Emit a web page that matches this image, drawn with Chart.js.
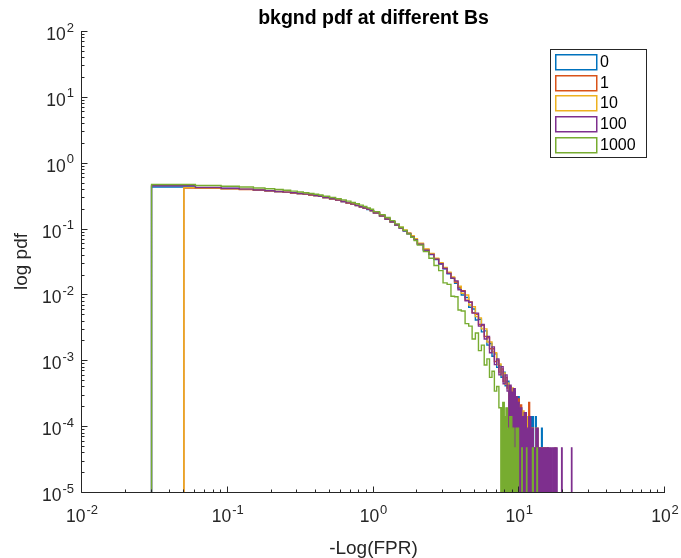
<!DOCTYPE html>
<html>
<head>
<meta charset="utf-8">
<script src="https://cdn.jsdelivr.net/npm/chart.js@4/dist/chart.umd.min.js"></script>
<style>
  html, body { margin: 0; padding: 0; background: #fff; }
  #wrap { width: 681px; height: 558px; }
</style>
</head>
<body>
<div id="wrap"><canvas id="myChart" width="681" height="558"></canvas></div>
<script>
// legend labels (B values)
const labels = ['0', '1', '10', '100', '1000'];

// bin edges of -Log(FPR), shared by the main part of every histogram
const edges = [0.03, 0.05, 0.06, 0.09, 0.12, 0.15, 0.18, 0.21, 0.24, 0.27, 0.30, 0.33, 0.36, 0.39, 0.42, 0.45,
  0.50, 0.55, 0.60, 0.65, 0.70, 0.75, 0.80, 0.85, 0.90, 0.95, 1.0,
  1.1, 1.2, 1.3, 1.4, 1.5, 1.6, 1.7, 1.8, 1.9, 2.0,
  2.2, 2.4, 2.6, 2.8, 3.0, 3.2, 3.4, 3.6, 3.8, 4.0,
  4.25, 4.5, 4.75, 5.0, 5.25, 5.5, 5.75, 6.0, 6.25, 6.5, 6.75, 7.0, 7.25, 7.5, 7.75, 8.0, 8.25, 8.5, 8.75];

// pdf per bin, one array per B
const pdf0 = [0.428, 0.428, 0.418, 0.405, 0.394, 0.383, 0.373, 0.364, 0.355, 0.347, 0.339, 0.331, 0.323, 0.316, 0.308,
  0.295, 0.282, 0.269, 0.257, 0.245, 0.234, 0.224, 0.214, 0.204, 0.195, 0.186,
  0.172, 0.155, 0.140, 0.126, 0.113, 0.102, 0.092, 0.083, 0.075, 0.068,
  0.058, 0.047, 0.0402, 0.0340, 0.0290, 0.0245, 0.0206, 0.0175, 0.0148, 0.0125,
  0.0098, 0.0090, 0.0064, 0.0060, 0.0041, 0.0042, 0.0027, 0.0028, 0.0017, 0.0018, 0.00115, 0.00125, 0.00078, 0.00084, 0.00055, 0.00066, 0.00041, 0.00048];
const pdf1 = [0, 0.413, 0.410, 0.402, 0.392, 0.382, 0.373, 0.364, 0.355, 0.347, 0.339, 0.331, 0.323, 0.316, 0.308,
  0.295, 0.282, 0.269, 0.257, 0.245, 0.234, 0.224, 0.214, 0.205, 0.196, 0.187,
  0.173, 0.156, 0.141, 0.127, 0.114, 0.103, 0.093, 0.084, 0.076, 0.069,
  0.059, 0.048, 0.0410, 0.0348, 0.0296, 0.0250, 0.0212, 0.0180, 0.0153, 0.0129,
  0.0114, 0.0082, 0.0077, 0.0053, 0.0050, 0.0035, 0.0034, 0.0023, 0.0022, 0.0015, 0.00150, 0.00096, 0.00100, 0.00066, 0.00074, 0.00048, 0.00055, 0.00038];
const pdf10 = [0, 0.418, 0.412, 0.404, 0.394, 0.384, 0.375, 0.366, 0.357, 0.349, 0.341, 0.333, 0.325, 0.318, 0.310,
  0.297, 0.284, 0.271, 0.259, 0.247, 0.236, 0.226, 0.216, 0.206, 0.197, 0.188,
  0.175, 0.158, 0.142, 0.128, 0.116, 0.105, 0.095, 0.086, 0.078, 0.070,
  0.060, 0.049, 0.0420, 0.0356, 0.0302, 0.0256, 0.0218, 0.0185, 0.0157, 0.0133,
  0.0104, 0.0098, 0.0069, 0.0065, 0.0046, 0.0044, 0.0030, 0.0030, 0.0019, 0.0019, 0.00135, 0.00130, 0.00086, 0.00088, 0.00060, 0.00064, 0.00043, 0.00045];
const pdf100 = [0.448, 0.448, 0.420, 0.410, 0.397, 0.385, 0.376, 0.366, 0.357, 0.349, 0.341, 0.333, 0.325, 0.317, 0.310,
  0.296, 0.283, 0.270, 0.258, 0.246, 0.235, 0.225, 0.215, 0.205, 0.196, 0.187,
  0.173, 0.156, 0.140, 0.127, 0.114, 0.103, 0.093, 0.084, 0.075, 0.068,
  0.058, 0.047, 0.0406, 0.0344, 0.0292, 0.0247, 0.0209, 0.0177, 0.0160, 0.0118,
  0.0112, 0.0080, 0.0076, 0.0052, 0.0052, 0.0033, 0.0035, 0.0021, 0.0023, 0.0013, 0.0016, 0.00086, 0.00105, 0.00060, 0.00080, 0.00044, 0.00060, 0.00034];
const pdf1000 = [0.468, 0.468, 0.452, 0.440, 0.428, 0.414, 0.403, 0.392, 0.381, 0.370, 0.360, 0.350, 0.341, 0.332, 0.323,
  0.310, 0.297, 0.285, 0.273, 0.261, 0.249, 0.238, 0.227, 0.216, 0.206, 0.196,
  0.181, 0.163, 0.147, 0.132, 0.118, 0.105, 0.094, 0.083, 0.074, 0.066,
  0.056, 0.0447, 0.0355, 0.0275, 0.0230, 0.0150, 0.0142, 0.0094, 0.0092, 0.0058,
  0.0056, 0.0036, 0.0033, 0.0021, 0.0026, 0.0014, 0.0017, 0.00085, 0.00105, 0.00055, 0.00068, 0.00034, 0.00040, 0.00019];

// sparse tails (0, 1, 2, 3 ... counts), dense enough to look solid
const tailEdges0 = [8.5, 8.8, 9.1, 9.4, 9.7, 10.0, 10.4, 10.8, 11.2, 11.6, 12.0, 12.5, 12.9, 13.1, 13.6, 14.2, 14.4, 15.0, 15.6, 15.8];
const tailPdf0 = [3.7e-4, 3.0e-4, 3.4e-4, 2.6e-4, 2.8e-4, 1.9e-4, 1.6e-4, 1.4e-4, 1.2e-4, 9.3e-5, 1.4e-4, 4.7e-5, 1.4e-4, 4.7e-5, 4.7e-5, 9.3e-5, 4.7e-5, 0, 4.7e-5];
const tailEdges1 = [8.5, 8.8, 9.1, 9.4, 9.7, 10.0, 10.4, 10.8, 11.2, 11.6, 11.8, 12.0, 12.5, 13.0, 13.5, 14.0, 14.5, 15.0, 15.5, 15.7, 17.6, 17.8];
const tailPdf1 = [4.0e-4, 3.5e-4, 3.0e-4, 2.5e-4, 2.6e-4, 2.1e-4, 1.6e-4, 1.4e-4, 1.2e-4, 2.3e-4, 9.3e-5, 9.3e-5, 4.7e-5, 4.7e-5, 4.7e-5, 4.7e-5, 4.7e-5, 0, 4.7e-5, 0, 4.7e-5];
const tailEdges10 = [8.5, 8.8, 9.1, 9.4, 9.7, 10.0, 10.4, 10.8, 11.2, 11.6, 12.0, 12.5, 13.0, 13.5, 14.0, 14.5, 15.0, 15.2, 17.6, 17.8];
const tailPdf10 = [3.6e-4, 3.8e-4, 2.9e-4, 2.7e-4, 2.2e-4, 1.8e-4, 1.7e-4, 1.2e-4, 1.4e-4, 9.3e-5, 9.3e-5, 4.7e-5, 9.3e-5, 4.7e-5, 4.7e-5, 4.7e-5, 4.7e-5, 0, 4.7e-5];
const tailEdges100 = [8.5, 8.8, 9.1, 9.4, 9.7, 10.0, 10.4, 10.8, 11.2, 11.6, 12.0, 12.5, 13.0, 13.5, 14.0, 14.5, 15.0, 15.5, 16.0, 16.6, 16.8, 17.4, 18.2, 19.5, 19.7, 22.8, 23.0];
const tailPdf100 = [4.2e-4, 3.3e-4, 3.7e-4, 2.8e-4, 2.3e-4, 1.9e-4, 1.4e-4, 1.6e-4, 9.3e-5, 1.4e-4, 9.3e-5, 4.7e-5, 9.3e-5, 4.7e-5, 4.7e-5, 4.7e-5, 4.7e-5, 4.7e-5, 4.7e-5, 0, 4.7e-5, 4.7e-5, 0, 4.7e-5, 0, 4.7e-5];
const tailEdges1000 = [7.5, 7.7, 7.9, 8.1, 8.3, 8.6, 8.9, 9.2, 9.5, 9.9, 10.4, 10.5, 11.2, 11.3, 12.3, 12.5, 13.2, 13.35];
const tailPdf1000 = [1.9e-4, 2.3e-4, 1.4e-4, 1.9e-4, 9.3e-5, 1.4e-4, 9.3e-5, 4.7e-5, 9.3e-5, 0, 4.7e-5, 0, 4.7e-5, 0, 4.7e-5, 0, 4.7e-5];

// decade exponents for the tick labels
const xTickExps = [-2, -1, 0, 1, 2];
const yTickExps = [-5, -4, -3, -2, -1, 0, 1, 2];

const colors = ['#0072BD', '#D95319', '#EDB120', '#7E2F8E', '#77AC30'];
const AXIS_COLOR = '#262626';
const FONT = '"Liberation Sans", Arial, Helvetica, sans-serif';
const BELOW = 1e-7; // empty bins, drawn under the x axis

function stairs(e, v) {
  const pts = [{ x: e[0], y: BELOW }];
  for (let i = 0; i < v.length; i++) {
    pts.push({ x: e[i], y: v[i] > 0 ? v[i] : BELOW });
  }
  const last = v[v.length - 1] > 0 ? v[v.length - 1] : BELOW;
  pts.push({ x: e[v.length], y: last });
  pts.push({ x: e[v.length], y: BELOW });
  return pts;
}

const mainPdfs = [pdf0, pdf1, pdf10, pdf100, pdf1000];
const tailEdges = [tailEdges0, tailEdges1, tailEdges10, tailEdges100, tailEdges1000];
const tailPdfs = [tailPdf0, tailPdf1, tailPdf10, tailPdf100, tailPdf1000];

const datasets = [];
mainPdfs.forEach((v, i) => {
  datasets.push({
    label: labels[i], data: stairs(edges, v),
    borderColor: colors[i], borderWidth: 1.4, pointRadius: 0,
    stepped: true, fill: false, order: 4 - i
  });
});
tailEdges.forEach((e, i) => {
  datasets.push({
    label: labels[i] + ' tail', data: stairs(e, tailPdfs[i]),
    borderColor: colors[i], backgroundColor: colors[i], borderWidth: 1.2, pointRadius: 0,
    stepped: true, fill: 'start', order: 4 - i
  });
});

function drawPow(ctx, e, x, yBase, align) {
  const sup = String(e);
  ctx.font = '17.5px ' + FONT;
  const wb = ctx.measureText('10').width;
  ctx.font = '13px ' + FONT;
  const ws = ctx.measureText(sup).width;
  const total = wb + 1 + ws;
  const left = align === 'center' ? x - total / 2 : x - total;
  ctx.font = '17.5px ' + FONT;
  ctx.fillText('10', left, yBase);
  ctx.font = '13px ' + FONT;
  ctx.fillText(sup, left + wb + 1, yBase - 8.5);
}

const matlabAxes = {
  id: 'matlabAxes',
  afterDatasetsDraw(chart) {
    const ctx = chart.ctx;
    const a = chart.chartArea;
    const xs = chart.scales.x, ys = chart.scales.y;
    const L = a.left - 0.5, B = a.bottom + 0.5;
    ctx.save();
    ctx.strokeStyle = AXIS_COLOR;
    ctx.lineWidth = 1;
    ctx.beginPath();
    ctx.moveTo(L, a.top);
    ctx.lineTo(L, B);
    ctx.lineTo(a.right, B);
    // x ticks, inside the axes
    for (let d = xTickExps[0]; d <= xTickExps[xTickExps.length - 1]; d++) {
      for (let m = 1; m <= 9; m++) {
        const v = m * Math.pow(10, d);
        if (v > xs.max * 1.0001) break;
        const px = Math.round(xs.getPixelForValue(v)) - 0.5;
        const len = m === 1 ? 6 : 3;
        ctx.moveTo(px, B);
        ctx.lineTo(px, B - len);
      }
    }
    for (let d = yTickExps[0]; d <= yTickExps[yTickExps.length - 1]; d++) {
      for (let m = 1; m <= 9; m++) {
        const v = m * Math.pow(10, d);
        if (v > ys.max * 1.0001) break;
        const py = Math.round(ys.getPixelForValue(v)) + 0.5;
        const len = m === 1 ? 6 : 3;
        ctx.moveTo(L, py);
        ctx.lineTo(L + len, py);
      }
    }
    ctx.stroke();

    ctx.fillStyle = AXIS_COLOR;
    ctx.textBaseline = 'alphabetic';
    ctx.textAlign = 'left';
    xTickExps.forEach(e => drawPow(ctx, e, xs.getPixelForValue(Math.pow(10, e)), a.bottom + 30, 'center'));
    yTickExps.forEach(e => drawPow(ctx, e, a.left - 8, ys.getPixelForValue(Math.pow(10, e)) + 9, 'right'));

    // axis titles and title
    ctx.textAlign = 'center';
    ctx.font = '19px ' + FONT;
    ctx.fillText('-Log(FPR)', (a.left + a.right) / 2, 554);
    ctx.save();
    ctx.translate(27, (a.top + a.bottom) / 2);
    ctx.rotate(-Math.PI / 2);
    ctx.fillText('log pdf', 0, 0);
    ctx.restore();
    ctx.fillStyle = '#000';
    ctx.font = 'bold 19.5px ' + FONT;
    ctx.fillText('bkgnd pdf at different Bs', (a.left + a.right) / 2, 24);
    ctx.restore();
  },
  afterDraw(chart) {
    // MATLAB style legend box
    const ctx = chart.ctx;
    ctx.save();
    ctx.fillStyle = '#fff';
    ctx.fillRect(550, 49, 97, 109);
    ctx.strokeStyle = AXIS_COLOR;
    ctx.lineWidth = 1;
    ctx.strokeRect(550.5, 49.5, 96, 108);
    ctx.textBaseline = 'middle';
    ctx.textAlign = 'left';
    ctx.font = '16px ' + FONT;
    labels.forEach((lab, i) => {
      const top = Math.round(54 + i * 20.7);
      ctx.strokeStyle = colors[i];
      ctx.lineWidth = 1.5;
      ctx.strokeRect(555.75, top + 0.75, 41, 15);
      ctx.fillStyle = '#000';
      ctx.fillText(lab, 600, top + 8.5);
    });
    ctx.restore();
  }
};

var ctx = document.getElementById('myChart').getContext('2d');
var myChart = new Chart(ctx, {
  type: 'line',
  data: { datasets: datasets },
  options: {
    responsive: false,
    animation: false,
    events: [],
    layout: { padding: { left: 82, right: 16, top: 31, bottom: 66 } },
    scales: {
      x: { type: 'logarithmic', min: 0.01, max: 100, display: false },
      y: { type: 'logarithmic', min: 1e-5, max: 100, display: false }
    },
    plugins: {
      legend: { display: false },
      tooltip: { enabled: false },
      title: { display: false }
    }
  },
  plugins: [matlabAxes]
});
</script>
</body>
</html>
